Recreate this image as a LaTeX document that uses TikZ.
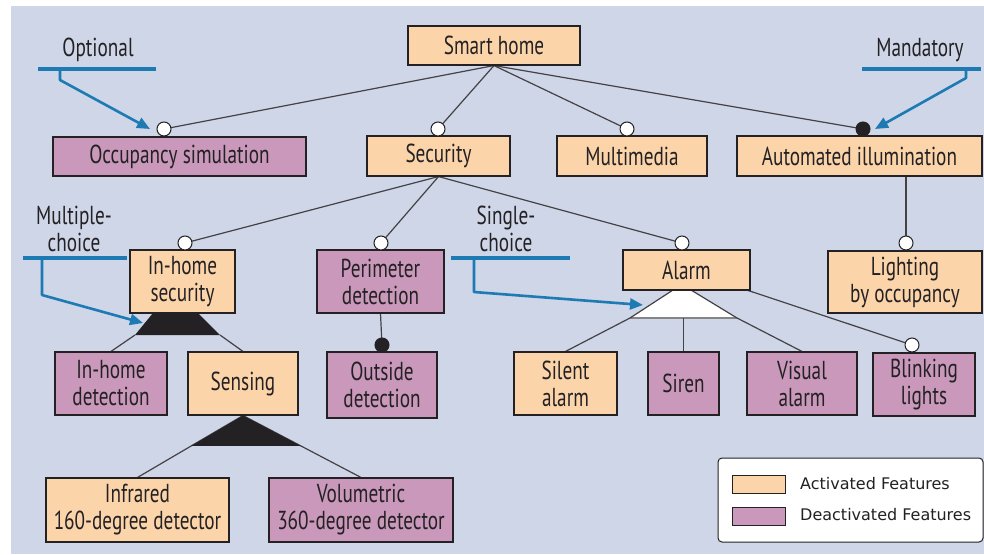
\documentclass[tikz,border=0pt]{standalone}
\usepackage{fontspec}
\setmainfont{PT Sans}[FakeStretch=0.74]
\newfontfamily\legendfont{DejaVu Sans}
\usetikzlibrary{arrows.meta,calc}

\definecolor{bgblue}{RGB}{206,214,232}
\definecolor{actfill}{RGB}{252,212,170}
\definecolor{deafill}{RGB}{201,152,186}
\definecolor{annblue}{RGB}{30,122,178}
\definecolor{ink}{RGB}{35,33,35}

\pgfdeclarelayer{back}
\pgfsetlayers{back,main}

\tikzset{
  feat/.style={draw=ink, line width=1.1pt, inner sep=0pt, align=center,
    font=\fontsize{26}{27}\selectfont, text=ink},
  act/.style={feat, fill=actfill},
  deact/.style={feat, fill=deafill},
  optc/.style={circle, draw=ink, fill=white, line width=1pt,
    minimum size=14pt, inner sep=0pt},
  mandc/.style={circle, draw=ink, fill=ink, line width=1pt,
    minimum size=14pt, inner sep=0pt},
  link/.style={draw=ink!85, line width=1.2pt},
  bar/.style={draw=annblue, line width=4pt},
  ann/.style={draw=annblue, line width=2.6pt, line join=round,
    -{Triangle[length=13pt,width=11pt]}},
  anntext/.style={font=\fontsize{26}{27}\selectfont, text=ink, align=center},
  swatch/.style={draw=ink, line width=1pt, minimum width=53pt,
    minimum height=18pt, inner sep=0pt},
  legtext/.style={font=\legendfont\fontsize{16}{18}\selectfont, text=ink,
    anchor=west, inner sep=0pt}
}

\begin{document}
\begin{tikzpicture}[x=1pt,y=-1pt]
\useasboundingbox (0,0) rectangle (984,554);

% feature boxes
\node[act,   minimum width=172pt, minimum height=39pt] (home)   at (494,45.5)   {Smart home};
\node[deact, minimum width=253pt, minimum height=39pt] (occ)    at (179.5,156.5) {Occupancy simulation};
\node[act,   minimum width=143pt, minimum height=40pt] (sec)    at (438.5,156)  {Security};
\node[act,   minimum width=150pt, minimum height=40pt] (mm)     at (632,156)    {Multimedia};
\node[act,   minimum width=245pt, minimum height=40pt] (auto)   at (859.5,156)  {Automated illumination};
\node[act,   minimum width=105pt, minimum height=63pt] (inhs)   at (182.5,281.5) {In-home\\security};
\node[deact, minimum width=127pt, minimum height=63pt] (peri)   at (380.5,281.5) {Perimeter\\detection};
\node[act,   minimum width=127pt, minimum height=40pt] (alarm)  at (686.5,270)  {Alarm};
\node[act,   minimum width=154pt, minimum height=62pt] (light)  at (905,282)    {Lighting\\by occupancy};
\node[deact, minimum width=112pt, minimum height=63pt] (inhd)   at (111,383.5)  {In-home\\detection};
\node[act,   minimum width=110pt, minimum height=63pt] (sens)   at (243,383.5)  {Sensing};
\node[deact, minimum width=110pt, minimum height=66pt] (outd)   at (382,385)    {Outside\\detection};
\node[act,   minimum width=103pt, minimum height=63pt] (silent) at (565.5,383.5) {Silent\\alarm};
\node[deact, minimum width=71pt,  minimum height=63pt] (siren)  at (683.5,383.5) {Siren};
\node[deact, minimum width=110pt, minimum height=63pt] (visual) at (802,383.5)  {Visual\\alarm};
\node[deact, minimum width=102pt, minimum height=63pt] (blink)  at (924,384.5)  {Blinking\\lights};
\node[act,   minimum width=183pt, minimum height=64pt] (infra)  at (137.5,510)  {Infrared\\160-degree detector};
\node[deact, minimum width=184pt, minimum height=64pt] (volu)   at (361,510)    {Volumetric\\360-degree detector};

% optional / mandatory markers
\node[optc]  (cocc)   at (164,129) {};
\node[optc]  (csec)   at (438,129) {};
\node[optc]  (cmm)    at (627,129) {};
\node[mandc] (cauto)  at (863,129) {};
\node[optc]  (cinhs)  at (185,243) {};
\node[optc]  (cperi)  at (381,243) {};
\node[optc]  (calarm) at (682,243) {};
\node[optc]  (clight) at (906,243) {};
\node[mandc] (coutd)  at (382,345) {};
\node[optc]  (cblink) at (912,345) {};

% group corner points
\coordinate (mtl) at (153,313);
\coordinate (mtr) at (198,313);
\coordinate (mbl) at (135,335);
\coordinate (mbr) at (220,335);
\coordinate (stl) at (673,290);
\coordinate (str) at (691,290);
\coordinate (sbl) at (630,318);
\coordinate (sbr) at (737,318);
\coordinate (sbm) at (683.5,318);

\begin{pgfonlayer}{back}
  \fill[bgblue] (11,6) rectangle (984,554);
  % decomposition links
  \draw[link] (home.south) -- (cocc.center);
  \draw[link] (home.south) -- (csec.center);
  \draw[link] (home.south) -- (cmm.center);
  \draw[link] (home.south) -- (cauto.center);
  \draw[link] (sec.south) -- (cinhs.center);
  \draw[link] (sec.south) -- (cperi.center);
  \draw[link] (sec.south) -- (calarm.center);
  \draw[link] (auto.south -| clight) -- (clight.center);
  \draw[link] (peri.south) -- (coutd.center);
  \draw[link] (alarm.center) -- (cblink.center);
  % multiple-choice group under In-home security
  \fill[ink] (mtl) -- (mtr) -- (mbr) -- (mbl) -- cycle;
  \draw[link] (mbl) -- (inhd.north);
  \draw[link] (mbr) -- (sens.north);
  % multiple-choice group under Sensing
  \draw[link] (sens.south) -- (infra.north);
  \draw[link] (sens.south) -- (volu.north);
  \fill[ink] (sens.south) -- ($(sens.south)!0.49!(volu.north)$)
    -- ($(sens.south)!0.49!(infra.north)$) -- cycle;
  % single-choice group under Alarm
  \fill[white] (stl) -- (str) -- (sbr) -- (sbl) -- cycle;
  \draw[ink!55, line width=1.4pt] (sbl) -- (sbr);
  \draw[link] (stl) -- (sbl) -- (silent.north);
  \draw[link] (str) -- (sbr) -- (visual.north);
  \draw[link] (sbm) -- (siren.north);
\end{pgfonlayer}

% notation callouts
\node[anntext] (toptional) at (98,50)  {Optional};
\node[anntext] (tmand)     at (920,50) {Mandatory};
\node[anntext] (tmulti)    at (74,229) {Multiple-\\choice};
\node[anntext] (tsingle)   at (506,229) {Single-\\choice};

\coordinate (optA) at (38,69);   \coordinate (optB) at (156,69);
\coordinate (optS) at (60,69);   \coordinate (optK) at (60,80);
\coordinate (manA) at (862,69);  \coordinate (manB) at (981,69);
\coordinate (manS) at (966,69);  \coordinate (manK) at (966,78);
\coordinate (mulA) at (23,258);  \coordinate (mulB) at (127,258);
\coordinate (mulS) at (42,258);  \coordinate (mulK) at (42,295);
\coordinate (sinA) at (451,258); \coordinate (sinB) at (570,258);
\coordinate (sinS) at (474,258); \coordinate (sinK) at (474,292);

\draw[bar] (optA) -- (optB);
\draw[ann] (optS) -- (optK) -- ($(cocc.center)+(-14,0)$);
\draw[bar] (manA) -- (manB);
\draw[ann] (manS) -- (manK) -- ($(cauto.center)+(12,0)$);
\draw[bar] (mulA) -- (mulB);
\draw[ann] (mulS) -- (mulK) -- ($(mtl)+(-10,10)$);
\draw[bar] (sinA) -- (sinB);
\draw[ann] (sinS) -- (sinK) -- ($(stl)+(-30,15)$);

% legend
\draw[ink, line width=1pt, fill=white, rounded corners=4pt] (718,458) rectangle (983,542);
\node[swatch, fill=actfill] (swact) at (758.5,484) {};
\node[swatch, fill=deafill] (swdea) at (759,516) {};
\node[legtext] (lact) at (800,484) {Activated Features};
\node[legtext] (ldea) at (800,515) {Deactivated Features};
\end{tikzpicture}
\end{document}
